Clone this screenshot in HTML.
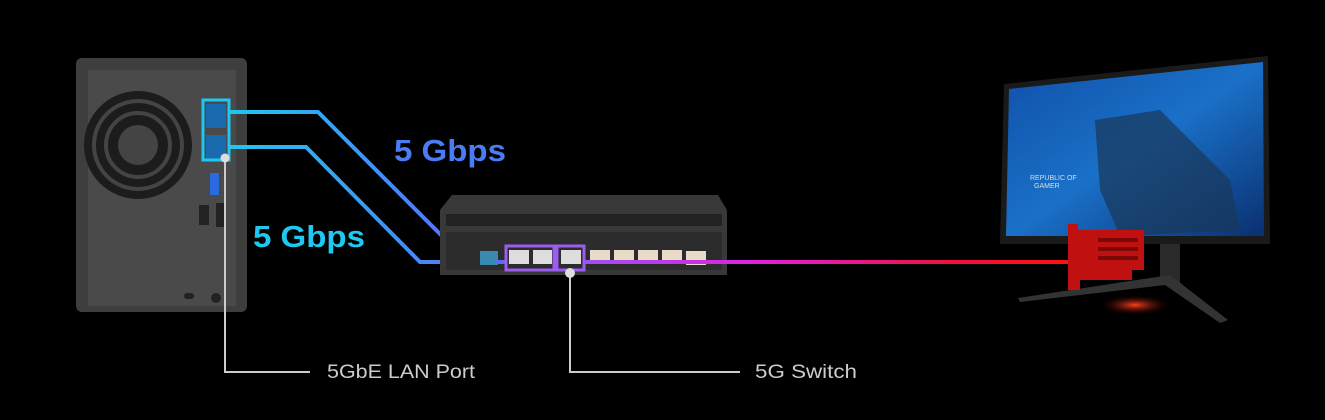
<!DOCTYPE html>
<html><head><meta charset="utf-8"><style>
html,body{margin:0;padding:0;background:#000;width:1325px;height:420px;overflow:hidden}
svg{display:block}
text{font-family:"Liberation Sans",sans-serif}
</style></head><body>
<svg width="1325" height="420" viewBox="0 0 1325 420" xmlns="http://www.w3.org/2000/svg">
<defs>
<linearGradient id="blueg" x1="0" x2="1" y1="0" y2="0">
<stop offset="0" stop-color="#1ec8f0"/><stop offset="1" stop-color="#5a6cf5"/></linearGradient>
<linearGradient id="redg" x1="584" x2="1070" y1="0" y2="0" gradientUnits="userSpaceOnUse">
<stop offset="0" stop-color="#a050f0"/><stop offset="0.35" stop-color="#e020e0"/><stop offset="0.75" stop-color="#f01040"/><stop offset="1" stop-color="#ff1010"/></linearGradient>
<linearGradient id="scr" x1="0" x2="1" y1="0" y2="1">
<stop offset="0" stop-color="#1050a8"/><stop offset="0.5" stop-color="#1a70c8"/><stop offset="1" stop-color="#0a3070"/></linearGradient>
<radialGradient id="glow"><stop offset="0" stop-color="#ff4020"/><stop offset="1" stop-color="#300000" stop-opacity="0"/></radialGradient>
</defs>
<!-- NAS -->
<rect x="76" y="58" width="171" height="254" rx="6" fill="#3e3e3e"/>
<rect x="88" y="70" width="148" height="236" fill="#4a4a4a"/>
<circle cx="138" cy="145" r="54" fill="#1c1c1c"/>
<circle cx="138" cy="145" r="44" fill="none" stroke="#444" stroke-width="4"/>
<circle cx="138" cy="145" r="32" fill="none" stroke="#444" stroke-width="4"/>
<circle cx="138" cy="145" r="20" fill="#444"/>
<rect x="210" y="173" width="9" height="22" fill="#2a6ae0"/>
<rect x="199" y="205" width="10" height="20" fill="#222"/>
<rect x="216" y="203" width="10" height="24" fill="#222"/>
<circle cx="216" cy="298" r="5" fill="#222"/>
<rect x="184" y="293" width="10" height="6" rx="3" fill="#222"/>
<rect x="206" y="104" width="20" height="24" fill="#1a6ab0"/>
<rect x="206" y="135" width="20" height="24" fill="#1a6ab0"/>
<rect x="203" y="100" width="26" height="60" fill="none" stroke="#1ec8f0" stroke-width="3"/>
<!-- lines -->
<polyline points="229,112 318,112 468,262" fill="none" stroke="url(#blueg)" stroke-width="4"/>
<polyline points="229,147 306,147 420,262 506,262" fill="none" stroke="url(#blueg)" stroke-width="4"/>
<!-- switch -->
<polygon points="452,195 718,195 727,210 440,210" fill="#383838"/>
<rect x="440" y="210" width="287" height="65" fill="#383838"/>
<rect x="446" y="214" width="276" height="12" fill="#222"/>
<rect x="446" y="232" width="276" height="38" fill="#2c2c2c"/>
<rect x="480" y="251" width="18" height="14" fill="#3a8ab0"/>
<g fill="#e8dcc8"><rect x="590" y="250" width="20" height="14"/><rect x="614" y="250" width="20" height="14"/><rect x="638" y="250" width="20" height="14"/><rect x="662" y="250" width="20" height="14"/><rect x="686" y="251" width="20" height="14"/></g>
<g fill="#ddd"><rect x="509" y="250" width="20" height="14"/><rect x="533" y="250" width="19" height="14"/><rect x="561" y="250" width="20" height="14"/></g>
<line x1="584" y1="262" x2="1070" y2="262" stroke="url(#redg)" stroke-width="4"/>
<line x1="495" y1="262" x2="506" y2="262" stroke="#5a6cf5" stroke-width="4"/>
<rect x="506" y="246" width="48" height="24" fill="none" stroke="#9b5cf0" stroke-width="3"/>
<rect x="557" y="246" width="27" height="24" fill="none" stroke="#9b5cf0" stroke-width="3"/>
<!-- monitor -->
<polygon points="1004,84 1268,56 1270,244 1000,244" fill="#1a1a1a"/>
<polygon points="1009,89 1263,62 1264,236 1006,236" fill="url(#scr)"/>
<polygon points="1095,120 1160,110 1230,180 1240,230 1120,236 1100,190" fill="#1a3858" opacity="0.7"/>
<text x="1030" y="180" font-size="7" fill="#ddd">REPUBLIC OF</text>
<text x="1034" y="188" font-size="7" fill="#ddd">GAMER</text>
<rect x="1160" y="244" width="20" height="40" fill="#2a2a2a"/>
<polygon points="1018,298 1170,275 1228,320 1220,323 1165,285 1020,302" fill="#333"/>
<ellipse cx="1135" cy="305" rx="35" ry="10" fill="url(#glow)"/>
<polygon points="1068,224 1078,224 1078,230 1144,230 1144,270 1132,270 1132,280 1080,280 1080,290 1068,290" fill="#c01010"/>
<g fill="#7a0808"><rect x="1098" y="238" width="40" height="4"/><rect x="1098" y="247" width="40" height="4"/><rect x="1098" y="256" width="40" height="4"/></g>
<!-- callouts -->
<polyline points="225,158 225,372 310,372" fill="none" stroke="#ccc" stroke-width="2"/>
<circle cx="225" cy="158" r="4.5" fill="#ddd"/>
<polyline points="570,273 570,372 740,372" fill="none" stroke="#ccc" stroke-width="2"/>
<circle cx="570" cy="273" r="5" fill="#ddd"/>
<text x="327" y="378" font-size="19" fill="#ccc" textLength="148" lengthAdjust="spacingAndGlyphs">5GbE LAN Port</text>
<text x="755" y="378" font-size="19" fill="#ccc" textLength="102" lengthAdjust="spacingAndGlyphs">5G Switch</text>
<text x="394" y="161" font-size="31" font-weight="bold" fill="#4a7cf5" textLength="112" lengthAdjust="spacingAndGlyphs">5 Gbps</text>
<text x="253" y="247" font-size="31" font-weight="bold" fill="#1ec8f0" textLength="112" lengthAdjust="spacingAndGlyphs">5 Gbps</text>
</svg>
</body></html>
